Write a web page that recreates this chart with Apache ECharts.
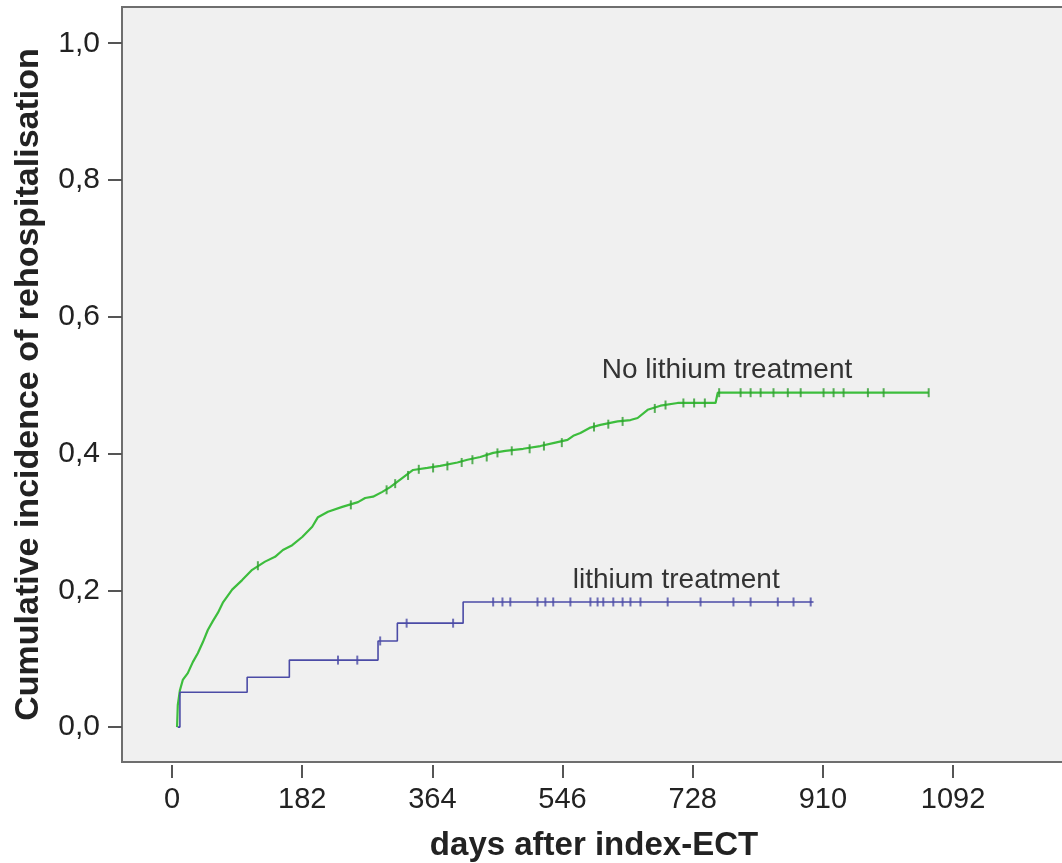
<!DOCTYPE html>
<html>
<head>
<meta charset="utf-8">
<script src="https://cdn.jsdelivr.net/npm/echarts@6/dist/echarts.min.js"></script>
<style>
html,body{margin:0;padding:0;background:#ffffff;}
#chart{width:1062px;height:863px;}
</style>
</head>
<body>
<div id="chart"></div>
<script>
// ---- data ----
const xTicks = [0, 182, 364, 546, 728, 910, 1092];
const yTicks = [0, 0.2, 0.4, 0.6, 0.8, 1.0];

const noLithiumDays = [7, 8, 11, 15, 22, 29, 36, 43, 50, 57, 64, 71, 84, 98, 112, 130, 144, 155, 168, 182, 196, 204, 218, 238, 260, 270, 281, 294, 305, 319, 337, 357, 375, 399, 413, 431, 449, 466, 491, 515, 536, 553, 561, 571, 585, 599, 623, 641, 651, 665, 683, 707, 760, 763, 1058];
const noLithiumVals = [0, 0.032, 0.054, 0.069, 0.079, 0.095, 0.108, 0.124, 0.142, 0.155, 0.167, 0.182, 0.201, 0.215, 0.230, 0.242, 0.249, 0.259, 0.266, 0.278, 0.293, 0.307, 0.315, 0.322, 0.329, 0.335, 0.337, 0.344, 0.351, 0.362, 0.376, 0.379, 0.382, 0.387, 0.391, 0.395, 0.401, 0.404, 0.407, 0.411, 0.416, 0.420, 0.426, 0.430, 0.438, 0.442, 0.447, 0.449, 0.452, 0.464, 0.470, 0.474, 0.474, 0.489, 0.489];

const noLithiumCensorDays = [120, 250, 300, 312, 330, 345, 365, 385, 405, 420, 440, 455, 475, 500, 520, 545, 590, 610, 630, 675, 690, 715, 730, 745, 765, 795, 809, 823, 841, 861, 879, 911, 925, 939, 973, 995, 1058];
const noLithiumCensorVals = [0.236, 0.325, 0.347, 0.356, 0.368, 0.377, 0.379, 0.382, 0.387, 0.391, 0.395, 0.401, 0.404, 0.407, 0.411, 0.416, 0.439, 0.443, 0.447, 0.466, 0.471, 0.474, 0.474, 0.474, 0.489, 0.489, 0.489, 0.489, 0.489, 0.489, 0.489, 0.489, 0.489, 0.489, 0.489, 0.489, 0.489];

const lithiumDays = [8, 11, 105, 164, 288, 315, 407, 897];
const lithiumVals = [0, 0.051, 0.073, 0.098, 0.126, 0.152, 0.183, 0.183];

const lithiumCensorDays = [232, 259, 291, 328, 393, 449, 462, 473, 511, 522, 533, 557, 585, 595, 603, 617, 630, 641, 655, 693, 739, 785, 809, 847, 869, 893];
const lithiumCensorVals = [0.098, 0.098, 0.126, 0.152, 0.152, 0.183, 0.183, 0.183, 0.183, 0.183, 0.183, 0.183, 0.183, 0.183, 0.183, 0.183, 0.183, 0.183, 0.183, 0.183, 0.183, 0.183, 0.183, 0.183, 0.183, 0.183];

const seriesNames = ['No lithium treatment', 'lithium treatment'];
const labelPos = [[776, 0.522], [705, 0.215]];

// ---- build ----
const zip = (a, b) => a.map((v, i) => [v, b[i]]);
const greenColor = '#3dbd3d';
const blueColor = '#4b4ba6';
const font = 'Arial, "Liberation Sans", sans-serif';

const chart = echarts.init(document.getElementById('chart'), null, {renderer: 'canvas'});
chart.setOption({
  backgroundColor: '#ffffff',
  animation: false,
  grid: {
    left: 122, top: 7, right: -4, bottom: 101,
    outerBoundsMode: 'none', containLabel: false,
    show: true, backgroundColor: '#f0f0f0', borderColor: '#6e6e6e', borderWidth: 2
  },
  xAxis: {
    type: 'value', min: -70, max: 1250, offset: 3,
    name: 'days after index-ECT', nameLocation: 'middle', nameGap: 64,
    nameTextStyle: {fontFamily: font, fontWeight: 'bold', fontSize: 33, color: '#222'},
    axisLine: {show: false, onZero: false},
    axisTick: {show: true, customValues: xTicks, length: 13, lineStyle: {color: '#555', width: 2}},
    axisLabel: {customValues: xTicks, fontFamily: font, fontSize: 29, color: '#222', margin: 20,
      formatter: v => String(v)},
    splitLine: {show: false}
  },
  yAxis: {
    type: 'value', min: -0.051, max: 1.053,
    name: 'Cumulative incidence of rehospitalisation', nameLocation: 'middle', nameGap: 76,
    nameTextStyle: {fontFamily: font, fontWeight: 'bold', fontSize: 34, color: '#222'},
    axisLine: {show: false, onZero: false},
    axisTick: {show: true, customValues: yTicks, length: 14, lineStyle: {color: '#555', width: 2}},
    axisLabel: {customValues: yTicks, fontFamily: font, fontSize: 30, color: '#222', margin: 22,
      formatter: v => v.toFixed(1).replace('.', ',')},
    splitLine: {show: false}
  },
  series: [
    {
      name: seriesNames[0], type: 'line', data: zip(noLithiumDays, noLithiumVals),
      showSymbol: false, lineStyle: {color: greenColor, width: 2.2}, z: 3,
      markPoint: {
        symbolSize: 0,
        data: [{coord: labelPos[0], value: seriesNames[0]}],
        label: {show: true, formatter: seriesNames[0], fontFamily: font, fontSize: 28, color: '#333', position: 'inside'}
      }
    },
    {
      name: seriesNames[0] + ' censored', type: 'scatter', data: zip(noLithiumCensorDays, noLithiumCensorVals),
      symbol: 'rect', symbolSize: [2, 9], itemStyle: {color: '#2f9e2f'}, z: 4
    },
    {
      name: seriesNames[1], type: 'line', step: 'end', data: zip(lithiumDays, lithiumVals),
      showSymbol: false, lineStyle: {color: blueColor, width: 1.6}, z: 3,
      markPoint: {
        symbolSize: 0,
        data: [{coord: labelPos[1], value: seriesNames[1]}],
        label: {show: true, formatter: seriesNames[1], fontFamily: font, fontSize: 28, color: '#333', position: 'inside'}
      }
    },
    {
      name: seriesNames[1] + ' censored', type: 'scatter', data: zip(lithiumCensorDays, lithiumCensorVals),
      symbol: 'rect', symbolSize: [2, 9], itemStyle: {color: blueColor}, z: 4
    }
  ]
});
</script>
</body>
</html>
